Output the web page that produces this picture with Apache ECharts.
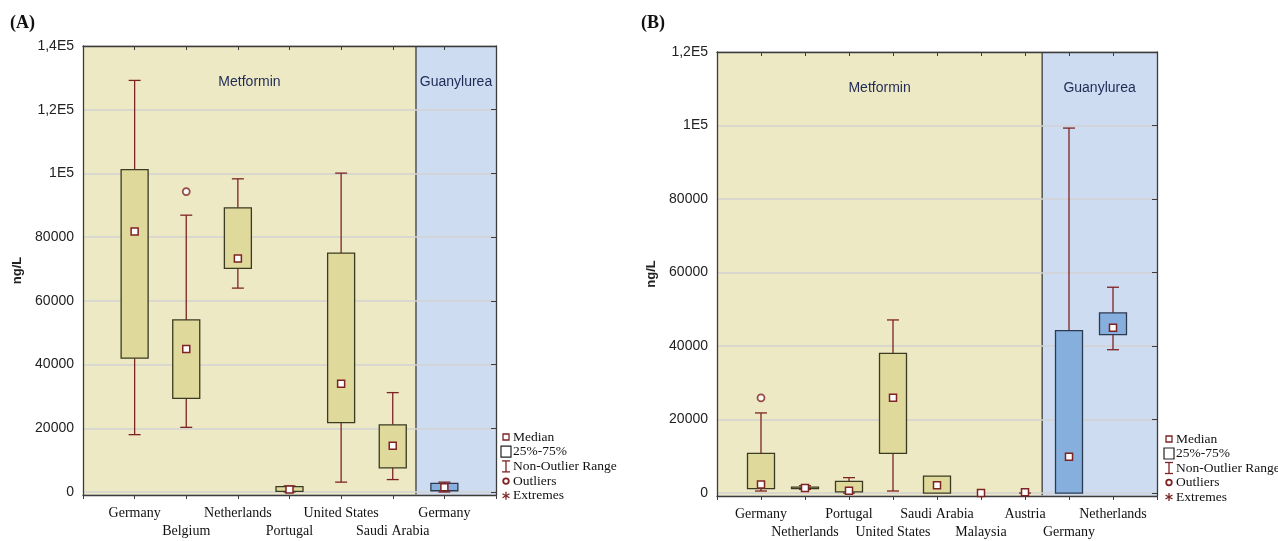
<!DOCTYPE html>
<html><head><meta charset="utf-8">
<script src="https://cdn.jsdelivr.net/npm/echarts@6/dist/echarts.min.js"></script>
<style>html,body{margin:0;padding:0;background:#fff}#c{width:1278px;height:541px}</style>
</head><body><div id="c"></div>
<script>
// ---------- Panel A data ----------
const catsA = ['Germany','Belgium','Netherlands','Portugal','United States','Saudi Arabia','Germany'];
const aMetLow  = [18000, 20300, 64000,    0,   3100,  3900];
const aMetQ1   = [42000, 29400, 70200,  200,  21800,  7600];
const aMetMed  = [81800, 44900, 73300,  800,  34000, 14500];
const aMetQ3   = [101200,54000, 89200, 1700,  75000, 21100];
const aMetHigh = [129200,86900, 98300, 1900, 100100, 31200];
const aGuaLow  = [0];
const aGuaQ1   = [400];
const aGuaMed  = [1500];
const aGuaQ3   = [2700];
const aGuaHigh = [3100];
const aOutlierPos = [2];
const aOutlierVal = [94300];
const aPanelBounds = [0, 6.45, 8];
const aYRange = [-940, 140000];

// ---------- Panel B data ----------
const catsB = ['Germany','Netherlands','Portugal','United States','Saudi Arabia','Malaysia','Austria','Germany','Netherlands'];
const bMetLow  = [  560, 1000,    0,   560,    0,  0,   0];
const bMetQ1   = [ 1200, 1200,  300, 10800,    0,  0, 200];
const bMetMed  = [ 2300, 1400,  600, 25900, 2100,  0, 200];
const bMetQ3   = [10800, 1600, 3200, 38000, 4600,  0, 200];
const bMetHigh = [21800, 2000, 4200, 47100, 4600,  0, 200];
const bGuaLow  = [0,     39000];
const bGuaQ1   = [0,     43100];
const bGuaMed  = [9900,  45000];
const bGuaQ3   = [44200, 49000];
const bGuaHigh = [99300, 56000];
const bOutlierPos = [1];
const bOutlierVal = [25900];
const bPanelBounds = [0, 7.39, 10];
const bYRange = [-800, 120000];

const panelNames = ['Metformin', 'Guanylurea'];
const legendLabels = ['Median', '25%-75%', 'Non-Outlier Range', 'Outliers', 'Extremes'];

// ---------- styles ----------
const RED = '#7d2323';
const PANEL_FILL = ['#eee9c5', '#cddcf1'];
const BOX_FILL = ['#dfd99b', '#87afdd'];
const BOX_STROKE = ['#3b3a22', '#2c3a50'];
const AXIS_COL = '#3c3c3c';
const SANS = '"Liberation Sans", Arial, sans-serif';
const SERIF = '"Liberation Serif", "Times New Roman", serif';

function boxData(offset, lo, q1, md, q3, hi) {
  return lo.map((_, i) => [offset + i + 1, lo[i], q1[i], md[i], q3[i], hi[i]]);
}
function outlierData(pos, val) { return pos.map((p, i) => [p, val[i]]); }
function panelData(b) { return [[b[0], b[1]], [b[1], b[2]]]; }

function makeBoxRender(k) {
  return function (params, api) {
    const x = api.value(0);
    const lo = api.coord([x, api.value(1)]);
    const q1 = api.coord([x, api.value(2)]);
    const md = api.coord([x, api.value(3)]);
    const q3 = api.coord([x, api.value(4)]);
    const hi = api.coord([x, api.value(5)]);
    const cx = lo[0];
    const W = 27, C = 6;
    const ws = { stroke: RED, lineWidth: 1.3 };
    const ch = [];
    if (hi[1] < q3[1] - 0.4) {
      ch.push({ type: 'line', shape: { x1: cx, y1: hi[1], x2: cx, y2: q3[1] }, style: ws });
      ch.push({ type: 'line', shape: { x1: cx - C, y1: hi[1], x2: cx + C, y2: hi[1] }, style: ws });
    }
    if (lo[1] > q1[1] + 0.4) {
      ch.push({ type: 'line', shape: { x1: cx, y1: q1[1], x2: cx, y2: lo[1] }, style: ws });
      ch.push({ type: 'line', shape: { x1: cx - C, y1: lo[1], x2: cx + C, y2: lo[1] }, style: ws });
    }
    if (q1[1] - q3[1] >= 0.5) {
      ch.push({ type: 'rect', shape: { x: cx - W / 2, y: q3[1], width: W, height: q1[1] - q3[1] },
        style: { fill: BOX_FILL[k], stroke: BOX_STROKE[k], lineWidth: 1.3 } });
    }
    ch.push({ type: 'rect', shape: { x: cx - 3.5, y: md[1] - 3.5, width: 7, height: 7 },
      style: { fill: '#ffffff', stroke: RED, lineWidth: 1.5 } });
    return { type: 'group', children: ch };
  };
}

function renderPanel(params, api) {
  const cs = params.coordSys;
  const x0 = api.coord([api.value(0), 0])[0];
  const x1 = api.coord([api.value(1), 0])[0];
  const i = params.dataIndex;
  const ch = [
    { type: 'rect', shape: { x: x0, y: cs.y, width: x1 - x0, height: cs.height }, style: { fill: PANEL_FILL[i] } },
    { type: 'text', x: (x0 + x1) / 2, y: cs.y + 36,
      style: { text: panelNames[i], font: '14px ' + SANS, fill: '#1f2a55', align: 'center', verticalAlign: 'middle' } }
  ];
  if (i > 0) ch.push({ type: 'line', shape: { x1: x0, y1: cs.y, x2: x0, y2: cs.y + cs.height }, style: { stroke: AXIS_COL, lineWidth: 1.3 } });
  return { type: 'group', children: ch };
}

function yFmt(v) {
  if (v < 0) return '';
  if (v >= 100000) return String(v / 100000).replace('.', ',') + 'E5';
  return String(v);
}
function xFmt(cats) {
  return function (v) {
    const i = Math.round(v) - 1;
    if (Math.abs(v - Math.round(v)) > 1e-6 || i < 0 || i >= cats.length) return '';
    return i % 2 === 0 ? cats[i] : '\n' + cats[i];
  };
}

function bottomX(grid, max, cats) {
  return { type: 'value', gridIndex: grid, position: 'bottom', min: 0, max: max, interval: 1,
    axisLine: { show: true, onZero: false, lineStyle: { color: AXIS_COL, width: 1.3 } },
    axisTick: { show: true, inside: false, length: 4, lineStyle: { color: AXIS_COL } },
    splitLine: { show: false },
    axisLabel: { formatter: xFmt(cats), margin: 9, fontFamily: SERIF, fontSize: 14, color: '#111', lineHeight: 18 } };
}
function topX(grid, max) {
  return { type: 'value', gridIndex: grid, position: 'top', min: 0, max: max, interval: 1,
    axisLine: { show: true, onZero: false, lineStyle: { color: AXIS_COL, width: 1.3 } },
    axisTick: { show: true, inside: true, length: 4, lineStyle: { color: AXIS_COL } },
    splitLine: { show: false }, axisLabel: { show: false } };
}
function leftY(grid, range, split) {
  return { type: 'value', gridIndex: grid, position: 'left', min: range[0], max: range[1], splitNumber: split,
    name: 'ng/L', nameLocation: 'middle', nameGap: 59,
    nameTextStyle: { fontFamily: SANS, fontSize: 13, fontWeight: 'bold', color: '#222' },
    axisLine: { show: true, onZero: false, lineStyle: { color: AXIS_COL, width: 1.3 } },
    axisTick: { show: false },
    splitLine: { show: true, lineStyle: { color: '#d2d2d2', width: 1.5 } },
    axisLabel: { formatter: yFmt, margin: 9, fontFamily: SANS, fontSize: 14, color: '#222', showMinLabel: true, showMaxLabel: true } };
}
function rightY(grid, range, split) {
  return { type: 'value', gridIndex: grid, position: 'right', min: range[0], max: range[1], splitNumber: split,
    axisLine: { show: true, onZero: false, lineStyle: { color: AXIS_COL, width: 1.3 } },
    axisTick: { show: true, inside: true, length: 5, lineStyle: { color: AXIS_COL } },
    splitLine: { show: false }, axisLabel: { show: false } };
}

function legendEls(ix, tx, y0, step) {
  const els = [];
  legendLabels.forEach((t, i) => els.push({ type: 'text', x: tx, y: y0 + i * step,
    style: { text: t, font: '13.5px ' + SERIF, fill: '#111', verticalAlign: 'middle' } }));
  let y = y0;
  els.push({ type: 'rect', shape: { x: ix - 3, y: y - 3, width: 6, height: 6 }, style: { fill: '#fff', stroke: RED, lineWidth: 1.3 } });
  y += step;
  els.push({ type: 'rect', shape: { x: ix - 5, y: y - 5.5, width: 10, height: 11 }, style: { fill: '#fff', stroke: '#222', lineWidth: 1.2 } });
  y += step;
  const ls = { stroke: RED, lineWidth: 1.3 };
  els.push({ type: 'line', shape: { x1: ix, y1: y - 5.5, x2: ix, y2: y + 5.5 }, style: ls });
  els.push({ type: 'line', shape: { x1: ix - 4, y1: y - 5.5, x2: ix + 4, y2: y - 5.5 }, style: ls });
  els.push({ type: 'line', shape: { x1: ix - 4, y1: y + 5.5, x2: ix + 4, y2: y + 5.5 }, style: ls });
  y += step;
  els.push({ type: 'circle', shape: { cx: ix, cy: y, r: 2.8 }, style: { fill: '#fff', stroke: RED, lineWidth: 1.8 } });
  y += step;
  for (let a = 0; a < 3; a++) {
    const ang = Math.PI / 2 + a * Math.PI / 3;
    els.push({ type: 'line', shape: { x1: ix - 4 * Math.cos(ang), y1: y - 4 * Math.sin(ang), x2: ix + 4 * Math.cos(ang), y2: y + 4 * Math.sin(ang) }, style: ls });
  }
  return els;
}

const chart = echarts.init(document.getElementById('c'), null, { renderer: 'canvas' });
const option = {
  animation: false,
  backgroundColor: '#ffffff',
  grid: [
    { left: 83, top: 46, width: 413, height: 449 },
    { left: 717, top: 52, width: 440, height: 448 }
  ],
  xAxis: [
    bottomX(0, aPanelBounds[2], catsA), topX(0, aPanelBounds[2]),
    bottomX(1, bPanelBounds[2], catsB), topX(1, bPanelBounds[2])
  ],
  yAxis: [
    leftY(0, aYRange, 7), rightY(0, aYRange, 7),
    leftY(1, bYRange, 6), rightY(1, bYRange, 6)
  ],
  series: [
    { type: 'custom', name: 'panelsA', xAxisIndex: 0, yAxisIndex: 0, z: -1, silent: true, clip: false,
      data: panelData(aPanelBounds), renderItem: renderPanel, encode: { x: [0, 1] } },
    { type: 'custom', name: 'metA', xAxisIndex: 0, yAxisIndex: 0, z: 3, clip: false,
      data: boxData(0, aMetLow, aMetQ1, aMetMed, aMetQ3, aMetHigh), renderItem: makeBoxRender(0), encode: { x: 0, y: [1, 2, 3, 4, 5] } },
    { type: 'custom', name: 'guaA', xAxisIndex: 0, yAxisIndex: 0, z: 3, clip: false,
      data: boxData(aMetLow.length, aGuaLow, aGuaQ1, aGuaMed, aGuaQ3, aGuaHigh), renderItem: makeBoxRender(1), encode: { x: 0, y: [1, 2, 3, 4, 5] } },
    { type: 'scatter', name: 'outA', xAxisIndex: 0, yAxisIndex: 0, z: 4, symbol: 'circle', symbolSize: 7,
      data: outlierData(aOutlierPos, aOutlierVal), itemStyle: { color: '#fff', borderColor: RED, borderWidth: 1.8 } },

    { type: 'custom', name: 'panelsB', xAxisIndex: 2, yAxisIndex: 2, z: -1, silent: true, clip: false,
      data: panelData(bPanelBounds), renderItem: renderPanel, encode: { x: [0, 1] } },
    { type: 'custom', name: 'metB', xAxisIndex: 2, yAxisIndex: 2, z: 3, clip: false,
      data: boxData(0, bMetLow, bMetQ1, bMetMed, bMetQ3, bMetHigh), renderItem: makeBoxRender(0), encode: { x: 0, y: [1, 2, 3, 4, 5] } },
    { type: 'custom', name: 'guaB', xAxisIndex: 2, yAxisIndex: 2, z: 3, clip: false,
      data: boxData(bMetLow.length, bGuaLow, bGuaQ1, bGuaMed, bGuaQ3, bGuaHigh), renderItem: makeBoxRender(1), encode: { x: 0, y: [1, 2, 3, 4, 5] } },
    { type: 'scatter', name: 'outB', xAxisIndex: 2, yAxisIndex: 2, z: 4, symbol: 'circle', symbolSize: 7,
      data: outlierData(bOutlierPos, bOutlierVal), itemStyle: { color: '#fff', borderColor: RED, borderWidth: 1.8 } }
  ],
  graphic: { elements: [
    { type: 'text', x: 10, y: 23, style: { text: '(A)', font: 'bold 18px ' + SERIF, fill: '#111', verticalAlign: 'middle' } },
    { type: 'text', x: 641, y: 23, style: { text: '(B)', font: 'bold 18px ' + SERIF, fill: '#111', verticalAlign: 'middle' } },
    ...legendEls(506, 513, 437, 14.7),
    ...legendEls(1169, 1176, 439, 14.5)
  ] }
};
chart.setOption(option);
</script>
</body></html>
